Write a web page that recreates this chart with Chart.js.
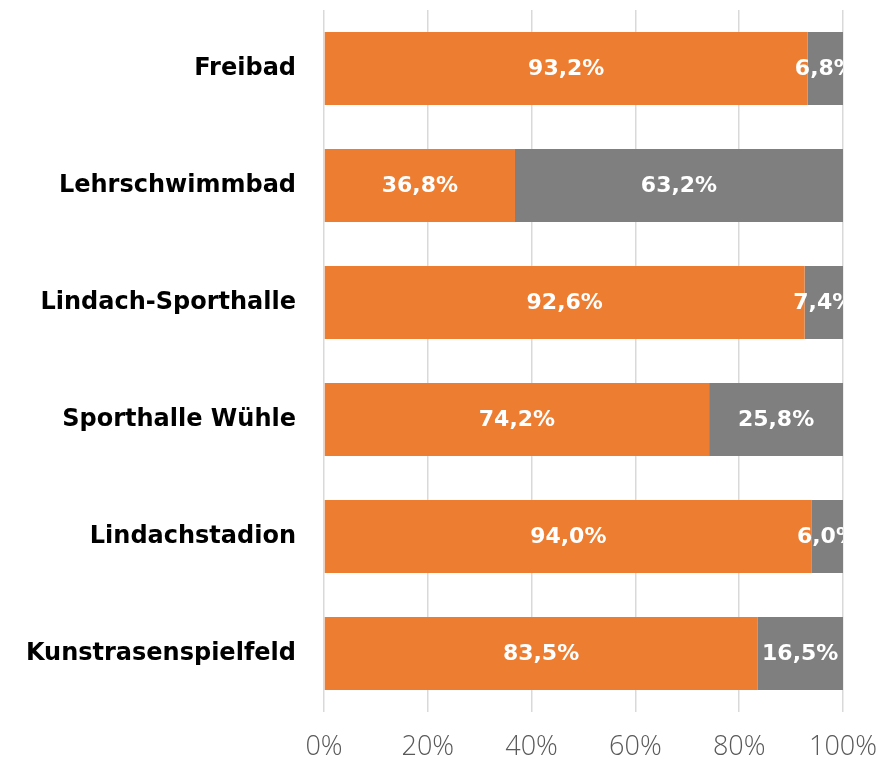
<!DOCTYPE html>
<html>
<head>
<meta charset="utf-8">
<script src="https://cdn.jsdelivr.net/npm/chart.js@4"></script>
<style>
  html, body { margin: 0; padding: 0; background: #fff; }
  #wrap { width: 877px; height: 761px; }
</style>
</head>
<body>
<div id="wrap"><canvas id="c" width="877" height="761"></canvas></div>
<script>
// Share of answers per facility (percent)
const categories = ['Freibad', 'Lehrschwimmbad', 'Lindach-Sporthalle', 'Sporthalle Wühle', 'Lindachstadion', 'Kunstrasenspielfeld'];
const orangeValues = [93.2, 36.8, 92.6, 74.2, 94.0, 83.5];
const greyValues = [6.8, 63.2, 7.4, 25.8, 6.0, 16.5];
const xTicks = [0, 20, 40, 60, 80, 100];

const BOLD_FONT = '"DejaVu Sans", "Open Sans", sans-serif';
const LIGHT_FONT = '"Open Sans", "DejaVu Sans", sans-serif';
const fmt = v => v.toFixed(1).replace('.', ',') + '%';

// Draws the value of each segment in its centre, clipped to the plot area
const segmentLabels = {
  id: 'segmentLabels',
  afterDatasetsDraw(chart) {
    const { ctx, chartArea } = chart;
    ctx.save();
    ctx.beginPath();
    ctx.rect(chartArea.left, chartArea.top, chartArea.right - chartArea.left, chartArea.bottom - chartArea.top);
    ctx.clip();
    ctx.fillStyle = '#ffffff';
    ctx.font = 'bold 22px ' + BOLD_FONT;
    ctx.textAlign = 'center';
    ctx.textBaseline = 'middle';
    chart.data.datasets.forEach((ds, di) => {
      const meta = chart.getDatasetMeta(di);
      meta.data.forEach((bar, i) => {
        const { x, base, y } = bar.getProps(['x', 'base', 'y'], true);
        ctx.fillText(fmt(ds.data[i]), (x + base) / 2, y + 1);
      });
    });
    ctx.restore();
  }
};

new Chart(document.getElementById('c'), {
  type: 'bar',
  data: {
    labels: categories,
    datasets: [
      { data: orangeValues, backgroundColor: '#ED7D31' },
      { data: greyValues, backgroundColor: '#7F7F7F' }
    ]
  },
  plugins: [segmentLabels],
  options: {
    indexAxis: 'y',
    responsive: false,
    animation: false,
    events: [],
    layout: { padding: { left: 0, right: 34, top: 10, bottom: 0 } },
    datasets: { bar: { categoryPercentage: 1, barPercentage: 0.625 } },
    plugins: { legend: { display: false }, tooltip: { enabled: false } },
    scales: {
      x: {
        stacked: true,
        min: 0,
        max: 100,
        afterBuildTicks(scale) { scale.ticks = xTicks.map(v => ({ value: v })); },
        afterFit(scale) {
          scale.height = 49;
          scale.paddingLeft = 0;
          scale.paddingRight = 0;
        },
        grid: { color: '#d9d9d9', lineWidth: 1.5, drawTicks: false },
        border: { display: false },
        ticks: {
          padding: 19,
          color: '#595959',
          font: { family: LIGHT_FONT, size: 27, weight: 300 },
          callback: v => v + '%'
        }
      },
      y: {
        stacked: true,
        afterFit(scale) {
          scale.width = 324;
          scale.paddingTop = 0;
          scale.paddingBottom = 0;
        },
        grid: { display: false, drawTicks: false },
        border: { display: false },
        ticks: {
          padding: 28,
          color: '#000000',
          font: { family: BOLD_FONT, size: 24, weight: 'bold' }
        }
      }
    }
  }
});
</script>
</body>
</html>
